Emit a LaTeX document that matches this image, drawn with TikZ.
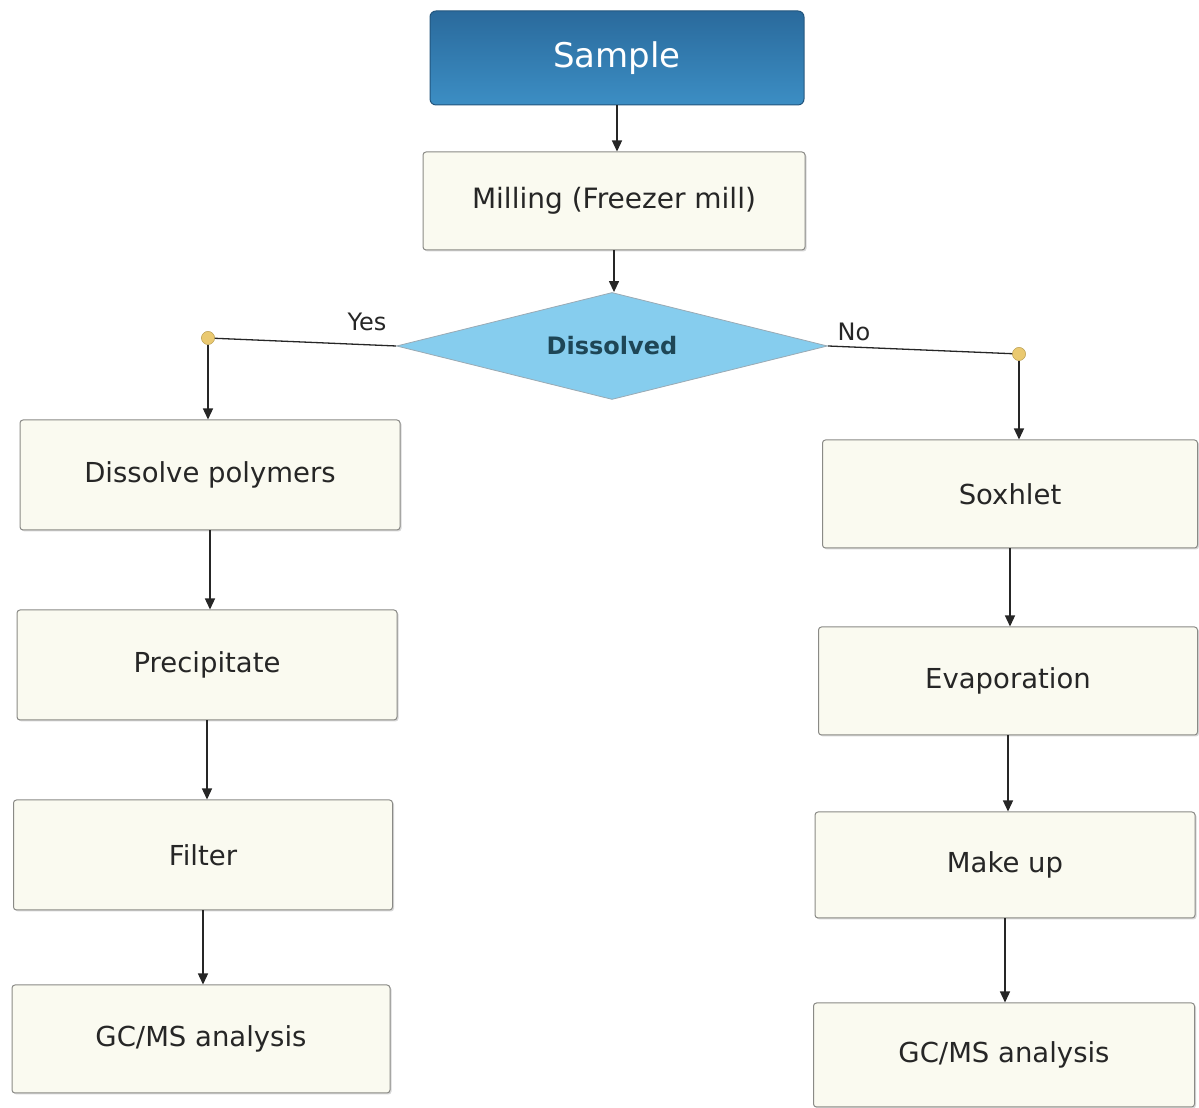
\documentclass[tikz,border=0pt]{standalone}
\usepackage{fontspec}
\setmainfont{DejaVu Sans}
\usetikzlibrary{shapes.geometric,arrows.meta,calc,shadows}
\definecolor{boxfill}{HTML}{FAFAF0}
\definecolor{boxedge}{HTML}{8A8A86}
\definecolor{sampletop}{HTML}{2A6A9C}
\definecolor{samplebot}{HTML}{3C8EC4}
\definecolor{diafill}{HTML}{86CDEE}
\definecolor{diaedge}{HTML}{9AAAB4}
\definecolor{diatext}{HTML}{1E4656}
\definecolor{dotfill}{HTML}{EAC970}
\tikzset{
  x=1pt, y=1pt,
  procbox/.style={draw=boxedge, line width=1pt, fill=boxfill, rounded corners=3pt,
    drop shadow={shadow xshift=1.5pt, shadow yshift=-1.5pt, fill=black!30, opacity=0.5},
    minimum width=378pt, minimum height=107pt, font=\fontsize{27.5}{31}\selectfont, text=black!85},
  startbox/.style={draw=sampletop!80!black, line width=1pt, top color=sampletop, bottom color=samplebot,
    rounded corners=6pt, minimum width=374pt, minimum height=94pt,
    font=\fontsize{34}{39}\selectfont, text=white},
  decision/.style={diamond, aspect=4.03, draw=diaedge, line width=0.8pt, fill=diafill,
    inner sep=0pt, minimum width=431pt, minimum height=107pt,
    font=\bfseries\fontsize{24}{28}\selectfont, text=diatext},
  junction/.style={circle, fill=dotfill, draw=dotfill!80!black, line width=0.4pt, minimum size=13pt, inner sep=0pt},
  flow/.style={draw=black!85, line width=1.3pt, -{Triangle[width=10pt,length=11pt]}},
  link/.style={draw=black!85, line width=1.3pt},
  lbl/.style={font=\fontsize{24}{28}\selectfont, text=black!85}
}
\begin{document}
\begin{tikzpicture}
\useasboundingbox (0,0) rectangle (1199,1108);
% nodes (x, 1108 - y)
\node[startbox] (sample) at (617,1050) {Sample};
\node[procbox, minimum width=382pt, minimum height=98pt, font=\fontsize{28}{32}\selectfont] (mill) at (614,907) {Milling (Freezer mill)};
\node[decision] (dis) at (612,762) {Dissolved};
\node[junction] (ydot) at (208,770) {};
\node[junction] (ndot) at (1019,754) {};
% left column
\node[procbox, minimum width=380pt, minimum height=110pt] (dpol) at (210,633) {Dissolve polymers};
\node[procbox, minimum width=380pt, minimum height=110pt] (prec) at (207,443) {Precipitate};
\node[procbox, minimum width=379pt, minimum height=110pt] (filt) at (203,253) {Filter};
\node[procbox, minimum width=378pt, minimum height=108pt] (gcl) at (201,69) {GC/MS analysis};
% right column
\node[procbox, minimum width=375pt, minimum height=108pt] (sox) at (1010,614) {Soxhlet};
\node[procbox, minimum width=379pt, minimum height=108pt] (evap) at (1008,427) {Evaporation};
\node[procbox, minimum width=380pt, minimum height=106pt] (make) at (1005,243) {Make up};
\node[procbox, minimum width=381pt, minimum height=104pt] (gcr) at (1004,53) {GC/MS analysis};
% labels
\node[lbl] (yes) at (367,786) {Yes};
\node[lbl] (no) at (854,776) {No};
% connectors
\draw[flow] (sample.south) -- (sample.south |- mill.north);
\draw[flow] (mill.south) -- (mill.south |- dis.north);
\draw[link] (dis.west) -- (ydot.center);
\draw[flow] (ydot.south) -- (ydot.south |- dpol.north);
\draw[link] (dis.east) -- (ndot.center);
\draw[flow] (ndot.south) -- (ndot.south |- sox.north);
\draw[flow] (dpol.south) -- (dpol.south |- prec.north);
\draw[flow] (prec.south) -- (prec.south |- filt.north);
\draw[flow] (filt.south) -- (filt.south |- gcl.north);
\draw[flow] (sox.south) -- (sox.south |- evap.north);
\draw[flow] (evap.south) -- (evap.south |- make.north);
\draw[flow] (make.south) -- (make.south |- gcr.north);
% redraw dots above lines
\node[junction] at (ydot) {};
\node[junction] at (ndot) {};
\end{tikzpicture}
\end{document}
